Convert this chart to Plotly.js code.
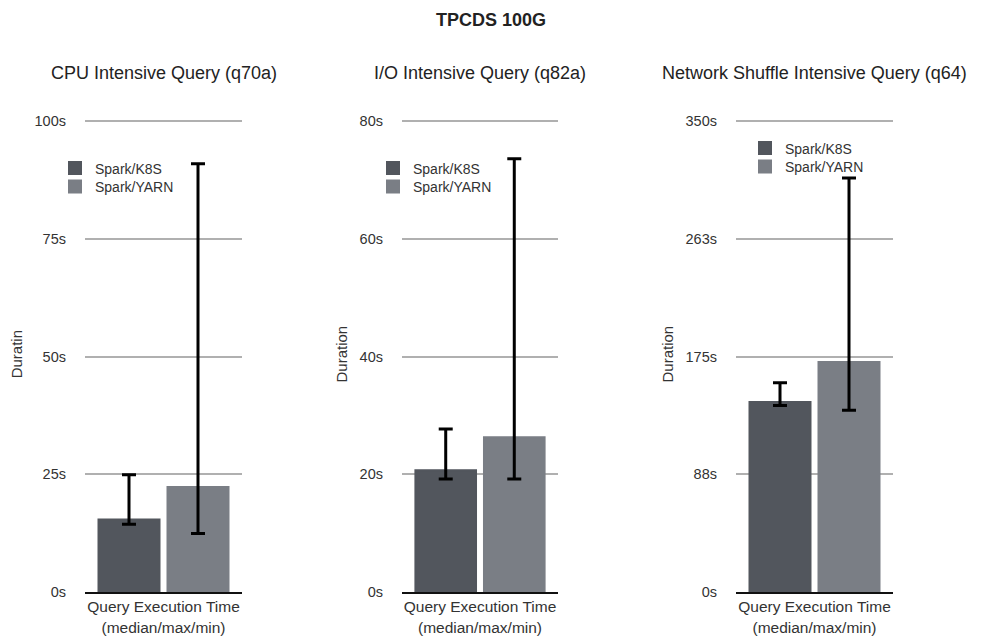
<!DOCTYPE html>
<html>
<head>
<meta charset="utf-8">
<script src="https://cdn.plot.ly/plotly-3.0.1.min.js"></script>
<style>html,body{margin:0;padding:0;background:#fff;}#chart{width:982px;height:638px;}</style>
</head>
<body>
<div id="chart"></div>
<script>
// ---- data ----
const category = ['Query Execution Time<br>(median/max/min)'];
const seriesNames = ['Spark/K8S', 'Spark/YARN'];
const panelTitles = ['CPU Intensive Query (q70a)', 'I/O Intensive Query (q82a)', 'Network Shuffle Intensive Query (q64)'];
const yTitles = ['Duratin', 'Duration', 'Duration'];

// CPU (q70a): [K8S, YARN]
const cpuMedian = [15.4, 22.3];
const cpuMax = [24.9, 90.9];
const cpuMin = [14.4, 12.4];
// I/O (q82a)
const ioMedian = [20.7, 26.3];
const ioMax = [27.7, 73.6];
const ioMin = [19.2, 19.2];
// Network shuffle (q64)
const netMedian = [141.1, 171.0];
const netMax = [155.5, 307.6];
const netMin = [138.6, 135.1];

const cpuTicks = [0, 25, 50, 75, 100];
const cpuTickText = ['0s', '25s', '50s', '75s', '100s'];
const ioTicks = [0, 20, 40, 60, 80];
const ioTickText = ['0s', '20s', '40s', '60s', '80s'];
const netTicks = [0, 87.5, 175, 262.5, 350];
const netTickText = ['0s', '88s', '175s', '263s', '350s'];

// ---- build ----
const colors = ['#52565d', '#7a7e85'];
const W = 982, H = 638;
const FONT = '"Liberation Sans", Arial, Helvetica, sans-serif';

const panels = [
  {med: cpuMedian, max: cpuMax, min: cpuMin, ticks: cpuTicks, text: cpuTickText, top: 100, px: [85, 242], leg: [55, 167.5]},
  {med: ioMedian, max: ioMax, min: ioMin, ticks: ioTicks, text: ioTickText, top: 80, px: [402, 558], leg: [373, 167.5]},
  {med: netMedian, max: netMax, min: netMin, ticks: netTicks, text: netTickText, top: 350, px: [736, 893], leg: [745, 147.5]}
];
const legendStep = 18.5, legendOffset = 15;

const traces = [];
const layout = {
  width: W, height: H,
  margin: {l: 0, r: 0, t: 0, b: 0},
  paper_bgcolor: '#fff', plot_bgcolor: '#fff',
  font: {family: FONT, size: 13, color: '#333'},
  barmode: 'group', bargap: 0.121, bargroupgap: 0.116,
  title: {text: '<b>TPCDS 100G</b>', x: 0.5, xanchor: 'center', y: 1 - 20 / H, yanchor: 'middle',
          font: {family: FONT, size: 18, color: '#222'}},
  annotations: [],
  showlegend: true
};

const yTop = 121, yBot = 592, ext = 0.01;
const domTop = yTop - (yBot - yTop) * ext;
let legCount = 0;
panels.forEach((p, i) => {
  const n = i === 0 ? '' : String(i + 1);
  seriesNames.forEach((s, j) => {
    legCount += 1;
    const legName = 'legend' + (legCount === 1 ? '' : legCount);
    traces.push({
      type: 'bar', name: s, x: category, y: [p.med[j]],
      xaxis: 'x' + n, yaxis: 'y' + n, legend: legName,
      marker: {color: colors[j], line: {width: 2, color: colors[j]}},
      error_y: {type: 'data', symmetric: false,
                array: [p.max[j] - p.med[j]], arrayminus: [p.med[j] - p.min[j]],
                color: '#000', thickness: 3, width: 7},
      hoverinfo: 'name+y'
    });
    layout[legName] = {
      x: p.leg[0] / W, xanchor: 'left', y: 1 - (p.leg[1] + j * legendStep - legendOffset) / H, yanchor: 'top',
      bgcolor: 'rgba(0,0,0,0)', font: {family: FONT, size: 14, color: '#333'}
    };
  });
  layout['xaxis' + n] = {
    domain: [p.px[0] / W, p.px[1] / W], anchor: 'y' + n, type: 'category',
    showline: true, linecolor: '#111', linewidth: 1.5, ticks: '', showgrid: false,
    tickfont: {family: FONT, size: 15.5, color: '#333'}, fixedrange: true
  };
  layout['yaxis' + n] = {
    domain: [(H - yBot) / H, (H - domTop) / H], anchor: 'x' + n, range: [0, p.top * (1 + ext)],
    tickvals: p.ticks, ticktext: p.text, showgrid: true, gridcolor: '#b0b0b0', gridwidth: 1.5,
    zeroline: false, showline: false, ticks: '', ticklabelstandoff: 18,
    tickfont: {family: FONT, size: 14.5, color: '#333'},
    title: {text: yTitles[i], standoff: 8, font: {family: FONT, size: 15, color: '#333'}},
    fixedrange: true
  };
  layout.annotations.push({
    text: panelTitles[i], xref: 'paper', yref: 'paper',
    x: (p.px[0] + p.px[1]) / 2 / W, y: 1 - 73 / H, xanchor: 'center', yanchor: 'middle',
    showarrow: false, font: {family: FONT, size: 18, color: '#222'}
  });
});

Plotly.newPlot('chart', traces, layout, {displayModeBar: false});
</script>
</body>
</html>
